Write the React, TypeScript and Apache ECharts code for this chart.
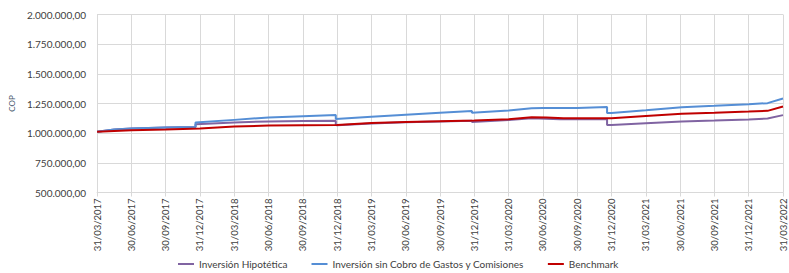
import React, { useEffect, useRef } from "react";
import * as echarts from "echarts";

const quarterLabels = [
  "31/03/2017", "30/06/2017", "30/09/2017", "31/12/2017",
  "31/03/2018", "30/06/2018", "30/09/2018", "31/12/2018",
  "31/03/2019", "30/06/2019", "30/09/2019", "31/12/2019",
  "31/03/2020", "30/06/2020", "30/09/2020", "31/12/2020",
  "31/03/2021", "30/06/2021", "30/09/2021", "31/12/2021",
  "31/03/2022",
];

const seriesNames = [
  "Inversión Hipotética",
  "Inversión sin Cobro de Gastos y Comisiones",
  "Benchmark",
];

// x = position in quarters since 31/03/2017, y = value in COP
const hipotetica: [number, number][] = [
  [0, 1012000], [0.5, 1030000], [1, 1040000], [2, 1047000], [2.87, 1053000],
  [2.87, 1075000], [4, 1090000], [5, 1099000], [6, 1102000], [6.96, 1104000],
  [6.96, 1068000], [7, 1066000], [8, 1082000], [9, 1092000], [10, 1098000], [10.93, 1104000],
  [10.93, 1095000], [12, 1110000], [12.67, 1126000], [13.5, 1118000], [14.87, 1118000],
  [14.87, 1068000], [15, 1068000], [16, 1083000], [17.05, 1098000], [18, 1106000],
  [19, 1115000], [19.55, 1124000], [20, 1152000],
];

const sinCobro: [number, number][] = [
  [0, 1012000], [0.5, 1030000], [1, 1040000], [2, 1047000], [2.87, 1053000],
  [2.87, 1090000], [4, 1112000], [5, 1132000], [6, 1143000], [6.96, 1153000],
  [6.96, 1120000], [8, 1138000], [9, 1155000], [10, 1172000], [10.93, 1187000],
  [10.93, 1172000], [12, 1192000], [12.67, 1210000], [13, 1212000], [14, 1213000], [14.87, 1220000],
  [14.87, 1170000], [15, 1170000], [16, 1193000], [17.05, 1219000], [18, 1230000],
  [19, 1244000], [19.55, 1253000], [20, 1292000],
];

const benchmark: [number, number][] = [
  [0, 1012000], [1, 1025000], [2, 1030000], [3, 1040000], [4, 1056000],
  [5, 1064000], [6, 1066000], [7, 1068000], [8, 1085000], [9, 1095000],
  [10, 1101000], [11, 1107000], [12, 1118000], [12.67, 1135000], [13.1, 1133000],
  [13.6, 1125000], [15, 1125000], [16, 1145000], [17.05, 1163000], [18, 1172000],
  [19, 1182000], [19.55, 1188000], [20, 1225000],
];

const yTicks = { min: 500000, max: 2000000, interval: 250000 };

const fmt = (v: number) => {
  const s = Math.round(v).toString().replace(/\B(?=(\d{3})+(?!\d))/g, ".");
  return s + ",00";
};

export default function App() {
  const ref = useRef<HTMLDivElement>(null);
  useEffect(() => {
    if (!ref.current) return;
    const chart = echarts.init(ref.current, undefined, { renderer: "svg" });
    const font = "Lato, 'Liberation Sans', sans-serif";
    chart.setOption({
      animation: false,
      backgroundColor: "#ffffff",
      textStyle: { fontFamily: font },
      grid: { left: 92, right: 6, top: 14.5, bottom: 80.5, containLabel: false },
      legend: {
        top: 259,
        left: 178,
        padding: 0,
        icon: "rect",
        itemWidth: 16,
        itemHeight: 2,
        itemGap: 24,
        textStyle: { fontFamily: font, fontSize: 10, color: "#404040" },
        data: seriesNames,
      },
      xAxis: {
        type: "value",
        min: 0,
        max: 20,
        interval: 1,
        axisLine: { show: true, lineStyle: { color: "#d9d9d9" } },
        axisTick: { show: true, length: 4, lineStyle: { color: "#d9d9d9" } },
        splitLine: { show: true, lineStyle: { color: "#d9d9d9", width: 1 } },
        axisLabel: {
          rotate: 90,
          margin: 6,
          fontSize: 9.5,
          color: "#404040",
          fontFamily: font,
          formatter: (v: number) => quarterLabels[Math.round(v)] ?? "",
        },
      },
      yAxis: {
        type: "value",
        min: yTicks.min,
        max: yTicks.max,
        interval: yTicks.interval,
        name: "COP",
        nameLocation: "middle",
        nameGap: 78,
        nameRotate: 90,
        nameTextStyle: { fontSize: 8, color: "#44546a", fontFamily: font },
        axisLine: { show: true, lineStyle: { color: "#d9d9d9" } },
        axisTick: { show: false },
        splitLine: { show: true, lineStyle: { color: "#d9d9d9", width: 1 } },
        axisLabel: {
          margin: 11,
          fontSize: 10,
          color: "#404040",
          fontFamily: font,
          formatter: (v: number) => fmt(v),
        },
      },
      series: [
        {
          name: seriesNames[0],
          type: "line",
          showSymbol: false,
          data: hipotetica,
          lineStyle: { width: 2, color: "#8064a2" },
          itemStyle: { color: "#8064a2" },
        },
        {
          name: seriesNames[1],
          type: "line",
          showSymbol: false,
          data: sinCobro,
          lineStyle: { width: 2, color: "#558ed5" },
          itemStyle: { color: "#558ed5" },
        },
        {
          name: seriesNames[2],
          type: "line",
          showSymbol: false,
          data: benchmark,
          lineStyle: { width: 2, color: "#c00000" },
          itemStyle: { color: "#c00000" },
        },
      ],
    });
    return () => chart.dispose();
  }, []);
  return (
    <div
      ref={ref}
      style={{ position: "fixed", left: 0, top: 0, width: 789, height: 273 }}
    />
  );
}
